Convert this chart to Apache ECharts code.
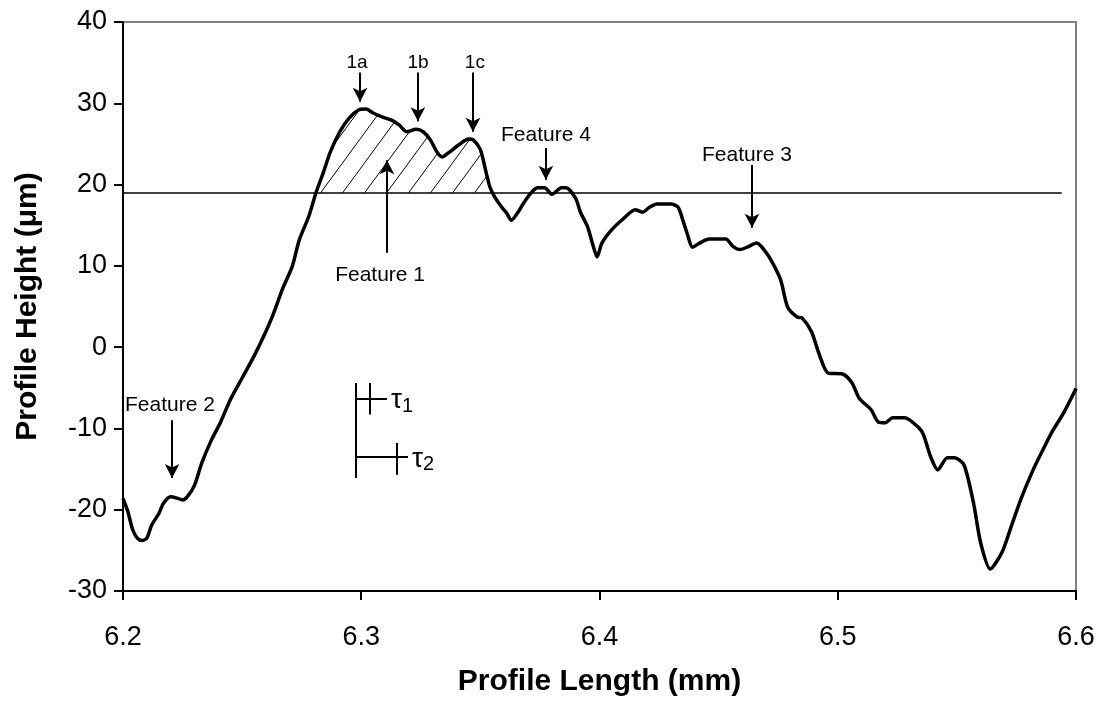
<!DOCTYPE html>
<html>
<head>
<meta charset="utf-8">
<script src="https://cdn.jsdelivr.net/npm/echarts@6/dist/echarts.min.js"></script>
<style>html,body{margin:0;padding:0;background:#fff;}#c{width:1105px;height:709px;}</style>
</head>
<body>
<div id="c"></div>
<script>
// Profile length (mm)
const xs = [6.200,6.202,6.204,6.206,6.208,6.210,6.212,6.215,6.217,6.220,
6.223,6.225,6.227,6.230,6.233,6.237,6.241,6.245,6.250,6.255,
6.259,6.263,6.267,6.271,6.274,6.278,6.281,6.284,6.287,6.291,
6.295,6.299,6.302,6.305,6.309,6.313,6.316,6.319,6.323,6.326,
6.329,6.332,6.334,6.337,6.341,6.345,6.347,6.350,6.352,6.354,
6.356,6.359,6.361,6.363,6.366,6.369,6.372,6.374,6.377,6.380,
6.384,6.386,6.390,6.392,6.395,6.397,6.399,6.401,6.405,6.410,
6.415,6.418,6.421,6.424,6.430,6.433,6.435,6.437,6.439,6.442,
6.446,6.453,6.456,6.459,6.462,6.466,6.469,6.472,6.476,6.479,
6.483,6.485,6.489,6.492,6.496,6.502,6.506,6.509,6.514,6.517,
6.520,6.523,6.528,6.534,6.536,6.539,6.542,6.546,6.549,6.553,
6.557,6.560,6.564,6.569,6.573,6.577,6.582,6.586,6.590,6.595,6.600];
// Profile height (µm)
const ys = [-18.6,-20.2,-22.4,-23.5,-23.8,-23.5,-21.9,-20.5,-19.2,-18.4,
-18.6,-18.8,-18.4,-17.0,-14.3,-11.5,-9.2,-6.5,-3.8,-1.1,
1.3,4.0,7.2,9.9,13.2,16.1,19.0,21.4,24.0,26.5,
28.2,29.2,29.3,28.8,28.3,27.9,27.3,26.5,26.8,26.5,
25.5,23.9,23.4,24.0,24.9,25.6,25.5,24.3,22.0,19.7,
18.5,17.2,16.5,15.6,16.7,18.1,19.2,19.6,19.6,18.8,
19.6,19.6,18.3,16.6,14.8,12.8,11.1,12.8,14.4,15.8,
16.9,16.6,17.2,17.6,17.6,17.2,15.6,13.8,12.3,12.8,
13.3,13.3,12.4,12.0,12.3,12.8,12.0,10.7,8.3,4.9,
3.7,3.6,1.9,-0.7,-3.2,-3.3,-4.4,-6.3,-7.7,-9.2,
-9.3,-8.7,-8.7,-9.9,-10.8,-13.5,-15.1,-13.6,-13.6,-14.5,
-19.2,-24.1,-27.3,-25.2,-21.9,-18.6,-15.1,-12.7,-10.4,-8.0,-5.1];

const threshold = 19;            // horizontal reference level
const thresholdEnd = 6.594;      // where the reference line stops
const hatchRange = [6.281, 6.355];

const xTicks = [6.2, 6.3, 6.4, 6.5, 6.6];
const yTicks = [-30, -20, -10, 0, 10, 20, 30, 40];

// arrows: [x, yFrom, yTo]
const arrows = [
  [6.2995, 33.8, 30.2],
  [6.3238, 33.8, 27.8],
  [6.3469, 33.8, 26.5],
  [6.3775, 24.5, 20.6],
  [6.4640, 22.4, 14.7],
  [6.2206, -9.0, -16.1],
  [6.3108, 11.6, 23.0]
];
// labels: [text, x, y, size]
const labels = [
  ['1a', 6.2982, 35.0, 19],
  ['1b', 6.3238, 35.0, 19],
  ['1c', 6.3477, 35.0, 19],
  ['Feature 4', 6.3775, 26.1, 21],
  ['Feature 3', 6.4619, 23.6, 21],
  ['Feature 2', 6.2197, -7.1, 21],
  ['Feature 1', 6.3079, 8.8, 21]
];
// tau scale bars
const tauBase = [6.2978, -4.4, -16.1];
const tauBars = [
  {y: -6.3, end: 6.3108, tick: 6.3037, t0: -4.4, t1: -8.3, sub: '1'},
  {y: -13.5, end: 6.3196, tick: 6.3150, t0: -11.8, t1: -15.7, sub: '2'}
];

const profile = xs.map((x, i) => [x, ys[i]]);
const hatch = [[hatchRange[0], threshold]]
  .concat(profile.filter(p => p[0] > hatchRange[0] && p[0] < hatchRange[1]))
  .concat([[hatchRange[1], threshold]]);

// hatch pattern
const pc = document.createElement('canvas');
pc.width = 22; pc.height = 30;
const pctx = pc.getContext('2d');
pctx.strokeStyle = '#000'; pctx.lineWidth = 1;
pctx.beginPath();
pctx.moveTo(-2.2, 33); pctx.lineTo(24.2, -3);
pctx.stroke();

const chart = echarts.init(document.getElementById('c'), null, {renderer: 'canvas'});

const mlData = [];
mlData.push([{coord: [6.2, threshold], symbol: 'none'}, {coord: [thresholdEnd, threshold], symbol: 'none', lineStyle: {width: 1.5}}]);
arrows.forEach(a => {
  mlData.push([{coord: [a[0], a[1]], symbol: 'none'}, {coord: [a[0], a[2]], symbol: 'arrow', symbolSize: [11, 14]}]);
});
mlData.push([{coord: [tauBase[0], tauBase[1]], symbol: 'none'}, {coord: [tauBase[0], tauBase[2]], symbol: 'none'}]);
tauBars.forEach(t => {
  mlData.push([{coord: [tauBase[0], t.y], symbol: 'none'}, {coord: [t.end, t.y], symbol: 'none'}]);
  mlData.push([{coord: [t.tick, t.t0], symbol: 'none'}, {coord: [t.tick, t.t1], symbol: 'none'}]);
});

const font = '"Liberation Sans", Arial, sans-serif';

chart.setOption({
  animation: false,
  backgroundColor: '#fff',
  grid: {left: 123, right: 29, top: 22, bottom: 118, show: true, borderColor: '#808080', borderWidth: 2},
  xAxis: {
    type: 'value', min: 6.2, max: 6.6, interval: 0.1,
    name: 'Profile Length (mm)', nameLocation: 'middle', nameGap: 76,
    nameTextStyle: {fontFamily: font, fontSize: 30, fontWeight: 'bold', color: '#000'},
    axisLine: {onZero: false, lineStyle: {color: '#000', width: 2}},
    axisTick: {length: 9, lineStyle: {color: '#000', width: 2}},
    axisLabel: {margin: 33, fontFamily: font, fontSize: 27, color: '#000', formatter: v => v.toFixed(1)},
    splitLine: {show: false}
  },
  yAxis: {
    type: 'value', min: -30, max: 40, interval: 10,
    name: 'Profile Height (\u03bcm)', nameLocation: 'middle', nameGap: 80,
    nameTextStyle: {fontFamily: font, fontSize: 30, fontWeight: 'bold', color: '#000'},
    axisLine: {onZero: false, lineStyle: {color: '#000', width: 2}},
    axisTick: {length: 9, lineStyle: {color: '#000', width: 2}},
    axisLabel: {margin: 16, fontFamily: font, fontSize: 27, color: '#000'},
    splitLine: {show: false}
  },
  series: [
    {
      type: 'line', data: hatch, symbol: 'none', silent: true,
      lineStyle: {width: 0, opacity: 0},
      areaStyle: {origin: threshold, color: {image: pc, repeat: 'repeat'}, opacity: 1},
      z: 1
    },
    {
      type: 'line', data: profile, symbol: 'none', smooth: 0.25, silent: true,
      lineStyle: {color: '#000', width: 3.5},
      z: 3,
      markLine: {
        silent: true, symbol: ['none', 'none'], animation: false,
        label: {show: false},
        lineStyle: {color: '#000', width: 2, type: 'solid'},
        data: mlData
      }
    }
  ]
});

function place() {
  const g = [];
  labels.forEach(l => {
    const p = chart.convertToPixel({gridIndex: 0}, [l[1], l[2]]);
    g.push({type: 'text', x: p[0], y: p[1], style: {text: l[0], fontFamily: font, fontSize: l[3], fill: '#000', align: 'center', verticalAlign: 'middle'}});
  });
  tauBars.forEach(t => {
    const p = chart.convertToPixel({gridIndex: 0}, [t.end, t.y]);
    g.push({type: 'text', x: p[0] + 4, y: p[1] + 2, style: {
      text: '{a|\u03c4}{b|' + t.sub + '}', align: 'left', verticalAlign: 'middle',
      rich: {a: {fontFamily: font, fontSize: 28, fill: '#000'}, b: {fontFamily: font, fontSize: 20, fill: '#000', padding: [12, 0, 0, 0]}}
    }});
  });
  chart.setOption({graphic: g});
}
place();
</script>
</body>
</html>
